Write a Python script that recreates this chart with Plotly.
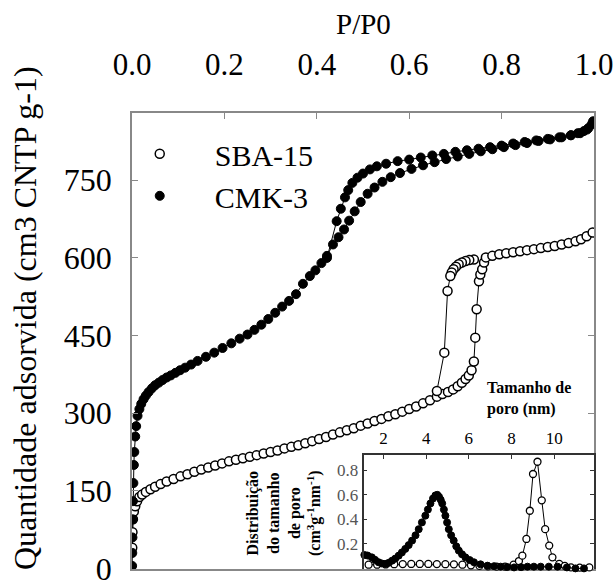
import plotly.graph_objects as go

# ---------------- main isotherms (P/P0 vs adsorbed amount) ----------------
cmk_ads_x = [0.0003, 0.0006, 0.001, 0.0015, 0.002, 0.003, 0.004, 0.005, 0.007, 0.009, 0.012, 0.016,
             0.02, 0.025, 0.03, 0.036, 0.043, 0.05, 0.058, 0.066, 0.075, 0.084, 0.094, 0.104, 0.115,
             0.128, 0.142, 0.16, 0.178, 0.196, 0.215, 0.233, 0.25, 0.265, 0.28, 0.295, 0.31, 0.325,
             0.34, 0.355, 0.37, 0.385, 0.397, 0.41, 0.422, 0.435, 0.447, 0.459, 0.47, 0.482, 0.495,
             0.51, 0.525, 0.542, 0.56, 0.58, 0.605, 0.63, 0.655, 0.68, 0.705, 0.73, 0.755, 0.78, 0.805,
             0.83, 0.855, 0.88, 0.905, 0.93, 0.95, 0.965, 0.978, 0.988, 0.995, 0.998]
cmk_ads_y = [5, 30, 60, 95, 130, 165, 200, 225, 255, 275, 295, 308,
             318, 327, 334, 341, 348, 354, 359, 364, 369, 373, 378, 383, 388,
             394, 401, 409, 417, 426, 435, 444, 452, 461, 471, 482, 494, 506,
             517, 530, 550, 565, 576, 590, 604, 626, 640, 655, 672, 690, 708,
             724, 736, 747, 756, 764, 772, 779, 785, 791, 796, 801, 806, 810, 814,
             818, 822, 826, 829, 833, 837, 841, 845, 851, 858, 864]
cmk_des_x = [0.985, 0.97, 0.95, 0.925, 0.9, 0.875, 0.85, 0.825, 0.8, 0.775, 0.75, 0.725, 0.7,
             0.675, 0.65, 0.625, 0.6, 0.575, 0.55, 0.53, 0.515, 0.5, 0.488, 0.477, 0.468, 0.461,
             0.452, 0.443, 0.422]
cmk_des_y = [848, 841, 837, 833, 830, 827, 824, 821, 817, 814, 811, 808, 805,
             801, 798, 794, 790, 787, 782, 777, 771, 763, 755, 745, 731, 717,
             695, 671, 600]

sba_ads_x = [0.0005, 0.001, 0.002, 0.004, 0.007, 0.011, 0.016, 0.022, 0.03, 0.04, 0.05, 0.062, 0.075,
             0.09, 0.105, 0.12, 0.135, 0.15, 0.165, 0.18, 0.195, 0.21, 0.225, 0.24, 0.255, 0.27,
             0.285, 0.3, 0.315, 0.33, 0.345, 0.36, 0.375, 0.39, 0.405, 0.42, 0.435, 0.45, 0.465,
             0.48, 0.495, 0.51, 0.525, 0.54, 0.555, 0.57, 0.585, 0.6, 0.615, 0.63, 0.645, 0.66,
             0.672, 0.684, 0.695, 0.705, 0.714, 0.722, 0.729, 0.735, 0.74, 0.743, 0.746, 0.751,
             0.754, 0.758, 0.762, 0.766, 0.78, 0.795, 0.81, 0.825, 0.84, 0.855, 0.87, 0.885, 0.9,
             0.915, 0.93, 0.945, 0.96, 0.972, 0.984, 0.997]
sba_ads_y = [40, 70, 95, 110, 120, 130, 138, 143, 148, 153, 158, 163, 168,
             173, 178, 182, 187, 191, 195, 199, 203, 207, 210, 213, 216, 219,
             222, 225, 228, 232, 235, 238, 242, 246, 250, 254, 259, 263, 267,
             271, 276, 280, 285, 289, 294, 298, 303, 308, 313, 319, 325, 332,
             337, 341, 346, 352, 359, 366, 373, 383, 400, 446, 501, 555,
             568, 578, 591, 601, 604, 607, 609, 611, 613, 615, 617, 619, 621,
             623, 626, 629, 632, 636, 642, 649]
sba_des_x = [0.74, 0.73, 0.722, 0.714, 0.707, 0.701, 0.696, 0.692, 0.689, 0.683, 0.676, 0.66]
sba_des_y = [597, 596, 594, 591, 588, 583, 578, 572, 565, 536, 417, 343]

# ---------------- inset: pore size distribution ----------------
cmk_psd_x = [1.1, 1.25, 1.45, 1.6, 1.77, 1.92, 2.08, 2.24, 2.4, 2.55, 2.71, 2.86, 3.02, 3.18, 3.34,
             3.5, 3.65, 3.8, 3.96, 4.08, 4.2, 4.32, 4.43, 4.52, 4.6, 4.68, 4.75, 4.83, 4.9, 4.98,
             5.06, 5.17, 5.29, 5.41, 5.53, 5.68, 5.84, 6.04, 6.24, 6.55, 6.87, 7.18, 7.49, 7.8,
             8.12, 8.45, 8.75, 9.05, 9.37, 9.75, 10.16, 10.6, 11.0, 11.4]
cmk_psd_y = [0.11, 0.105, 0.09, 0.07, 0.05, 0.04, 0.036, 0.045, 0.063, 0.08, 0.104, 0.13, 0.159,
             0.19, 0.227, 0.27, 0.32, 0.375, 0.43, 0.48, 0.53, 0.57, 0.595, 0.6, 0.585, 0.56,
             0.53, 0.48, 0.43, 0.375, 0.32, 0.27, 0.227, 0.18, 0.145, 0.115, 0.09, 0.068, 0.05,
             0.033, 0.022, 0.018, 0.014, 0.011, 0.008, 0.01, 0.014, 0.014, 0.014, 0.014, 0.014,
             0.008, 0.0, 0.0]
sba_psd_x = [1.3, 1.7, 2.1, 2.5, 2.9, 3.3, 3.7, 4.1, 4.5, 4.9, 5.3, 5.7, 6.1, 6.5, 6.9, 7.3, 7.7,
             8.1, 8.35, 8.51, 8.7, 8.86, 9.01, 9.22, 9.42, 9.58, 9.77, 9.92, 10.24, 10.5, 10.79,
             11.2, 11.65]
sba_psd_y = [0.03, 0.03, 0.032, 0.034, 0.035, 0.036, 0.036, 0.036, 0.035, 0.034, 0.033, 0.03,
             0.025, 0.02, 0.016, 0.014, 0.014, 0.03, 0.06, 0.104, 0.24, 0.47, 0.77, 0.87, 0.555,
             0.32, 0.186, 0.09, 0.036, 0.02, 0.008, 0.006, 0.008]

main_xticks = [0.0, 0.2, 0.4, 0.6, 0.8, 1.0]
main_xticktext = ["0.0", "0.2", "0.4", "0.6", "0.8", "1.0"]
main_yticks = [0, 150, 300, 450, 600, 750]
inset_xticks = [2, 4, 6, 8, 10]
inset_yticks = [0.2, 0.4, 0.6, 0.8]

SERIF = "Liberation Serif, Times New Roman, serif"
open_marker = dict(symbol="circle", size=9, color="white", line=dict(color="black", width=1.5))
fill_marker = dict(symbol="circle", size=9, color="black", line=dict(color="black", width=1))
open_small = dict(symbol="circle", size=7, color="white", line=dict(color="black", width=1.3))
fill_small = dict(symbol="circle", size=7, color="black", line=dict(color="black", width=1))
thin = dict(color="black", width=1)

W, H = 616, 580
PL, PT = 132, 113          # plot-area left / top in the window
PW, PH = 462, 456          # plot-area size


def px_x(px):
    return (px - PL) / PW


def px_y(py):
    return (PT + PH - py) / PH


fig = go.Figure()

# connecting lines (no legend)
for xs, ys in [(sba_ads_x, sba_ads_y), (sba_des_x, sba_des_y),
               (cmk_ads_x, cmk_ads_y), (cmk_des_x, cmk_des_y)]:
    fig.add_trace(go.Scatter(x=xs, y=ys, mode="lines", line=thin, showlegend=False,
                             hoverinfo="skip"))

fig.add_trace(go.Scatter(x=sba_ads_x, y=sba_ads_y, mode="markers", marker=open_marker,
                         name="SBA-15", legendgroup="sba"))
fig.add_trace(go.Scatter(x=sba_des_x, y=sba_des_y, mode="markers", marker=open_marker,
                         name="SBA-15", legendgroup="sba", showlegend=False))
fig.add_trace(go.Scatter(x=cmk_ads_x, y=cmk_ads_y, mode="markers", marker=fill_marker,
                         name="CMK-3", legendgroup="cmk"))
fig.add_trace(go.Scatter(x=cmk_des_x, y=cmk_des_y, mode="markers", marker=fill_marker,
                         name="CMK-3", legendgroup="cmk", showlegend=False))

# inset
fig.add_trace(go.Scatter(x=sba_psd_x, y=sba_psd_y, mode="lines+markers", marker=open_small,
                         line=thin, xaxis="x2", yaxis="y2", showlegend=False, cliponaxis=False))
fig.add_trace(go.Scatter(x=cmk_psd_x, y=cmk_psd_y, mode="lines+markers", marker=fill_small,
                         line=thin, xaxis="x2", yaxis="y2", showlegend=False, cliponaxis=False))

axis_common = dict(showgrid=False, zeroline=False, showline=True, ticks="inside",
                   ticklabeloverflow="allow", automargin=False)

fig.update_layout(
    width=W, height=H,
    margin=dict(l=PL, r=W - PL - PW, t=PT, b=H - PT - PH, autoexpand=False),
    paper_bgcolor="white", plot_bgcolor="white",
    font=dict(family=SERIF, color="black"),
    xaxis=dict(**axis_common, domain=[0, 1], range=[0, 1.0], side="top",
               tickvals=main_xticks, ticktext=main_xticktext,
               linecolor="#888888", linewidth=1.5, tickcolor="#888888", ticklen=6,
               mirror=True, tickfont=dict(size=31, family=SERIF),
               ticklabelstandoff=24),
    yaxis=dict(**axis_common, domain=[0, 1], range=[-1, 880], tickvals=main_yticks,
               linecolor="#888888", linewidth=1.5, tickcolor="#888888", ticklen=6,
               mirror="ticks", tickfont=dict(size=32, family=SERIF),
               ticklabelstandoff=12),
    xaxis2=dict(**axis_common, domain=[px_x(363.5), 1], anchor="y2", range=[1.06, 11.87],
                side="top", tickvals=inset_xticks, linecolor="#333333", linewidth=1.5,
                tickcolor="#333333", ticklen=4, tickfont=dict(size=17, family=SERIF),
                ticklabelstandoff=2),
    yaxis2=dict(**axis_common, domain=[0, px_y(455)], anchor="x2", range=[-0.005, 0.925],
                tickvals=inset_yticks, tickformat=".1f", linecolor="#333333", linewidth=1.5,
                tickcolor="#333333", ticklen=4, mirror="ticks",
                tickfont=dict(size=17, family=SERIF, color="#555555")),
    legend=dict(x=-0.059, y=0.9675, xanchor="left", yanchor="top", bgcolor="rgba(0,0,0,0)",
                font=dict(size=30, family=SERIF), itemwidth=100, tracegroupgap=0),
    showlegend=True,
)

fig.add_annotation(text="P/P0", xref="paper", yref="paper", x=0.5, y=px_y(24),
                   xanchor="center", yanchor="middle", showarrow=False,
                   font=dict(size=29, family=SERIF))
fig.add_annotation(text="Quantidade adsorvida (cm3 CNTP g-1)", xref="paper", yref="paper",
                   x=px_x(25), y=px_y(318), xanchor="center", yanchor="middle", textangle=-90,
                   showarrow=False, font=dict(size=32, family=SERIF))
fig.add_annotation(text="<b>Tamanho de<br>poro (nm)</b>", xref="paper", yref="paper",
                   x=px_x(485), y=px_y(398), xanchor="left", yanchor="middle",
                   align="left", showarrow=False, font=dict(size=16, family=SERIF))
fig.add_annotation(text="<b>Distribuição<br>do tamanho<br>de poro<br>(cm<sup>3</sup>g<sup>-1</sup>nm<sup>-1</sup>)</b>",
                   xref="paper", yref="paper", x=px_x(284), y=px_y(513),
                   xanchor="center", yanchor="middle", textangle=-90, align="center",
                   showarrow=False, font=dict(size=16, family=SERIF))

# remove the default 8px page margin and scrollbars so the figure fills the window
fig.write_html("out.html",
               config={"displayModeBar": False},
               post_script="document.body.style.margin='0';"
                           "document.body.style.overflow='hidden';"
                           "document.documentElement.style.overflow='hidden';")
